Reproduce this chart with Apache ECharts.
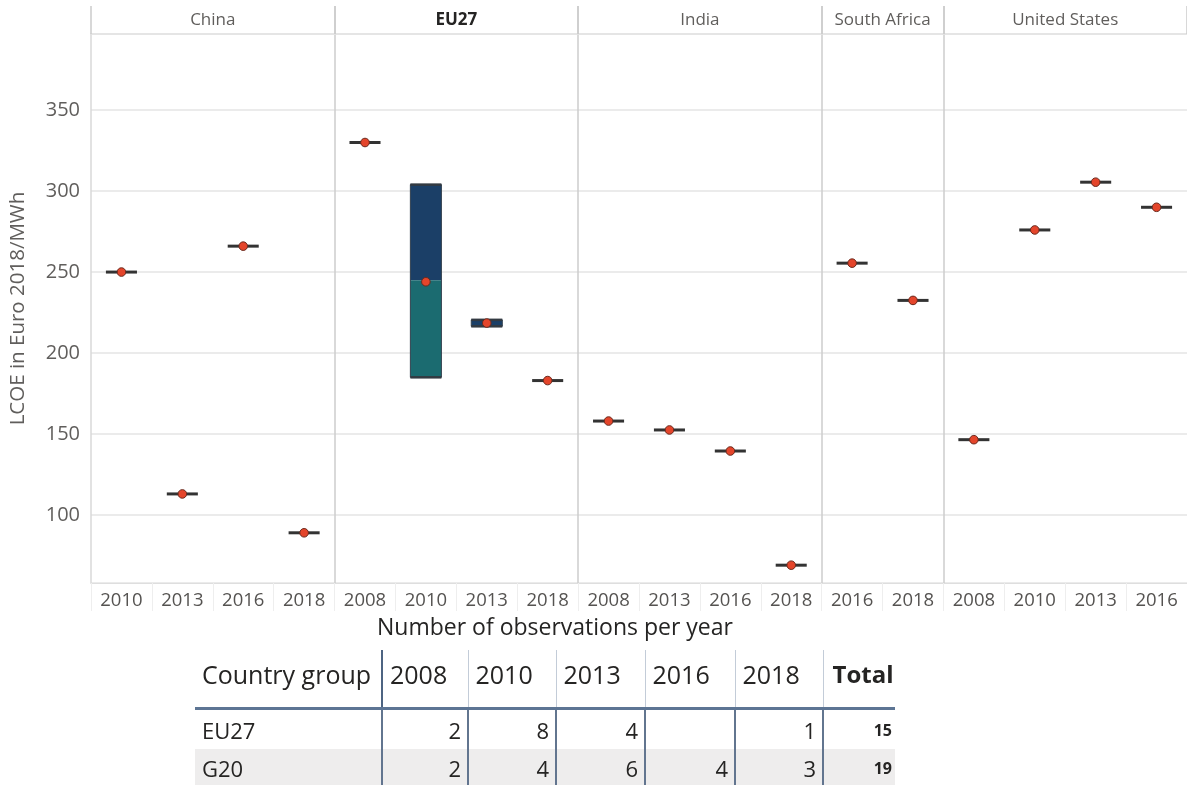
<!DOCTYPE html>
<html>
<head>
<meta charset="utf-8">
<script src="https://cdn.jsdelivr.net/npm/echarts@6/dist/echarts.min.js"></script>
<style>
html,body{margin:0;padding:0;background:#fff;}
#chart{position:absolute;left:0;top:0;width:1187px;height:785px;}
#tbl{position:absolute;left:195px;top:650px;border-collapse:collapse;table-layout:fixed;width:700px;font-family:'Open Sans',sans-serif;color:#252423;}
#tbl th{font-size:25px;font-weight:normal;text-align:left;padding:0 0 10px 7px;height:47px;vertical-align:middle;border-bottom:3px solid #5d7594;border-left:1.5px solid #c3ccd8;white-space:nowrap;}
#tbl th:first-child{border-left:none;}
#tbl th.sep1{border-left:2px solid #4d6482;}
#tbl th.tot{font-weight:bold;padding-left:9px;font-size:24px;}
#tbl td{font-size:22px;text-align:right;padding:0 6px 0 0;vertical-align:middle;border-left:2px solid #62758f;white-space:nowrap;}
#tbl td:first-child{text-align:left;padding-left:7px;border-left:none;}
#tbl td.tot{font-weight:bold;font-size:16px;padding-right:3px;}
#tbl tr.r1 td{height:39px;}
#tbl tr.r2 td{height:38px;background:#eeeded;}
</style>
</head>
<body>
<div id="chart"></div>
<table id="tbl"></table>
<script>
// ---------- data ----------
const panels = ['China', 'EU27', 'India', 'South Africa', 'United States'];

const chinaYears = ['2010', '2013', '2016', '2018'];
const chinaMean  = [250, 113, 266, 89];

const euYears  = ['2008', '2010', '2013', '2018'];
const euMean   = [330, 244, 218.5, 183];
const euLow    = [null, 185, 216.5, null];
const euMedian = [null, 245, 216.5, null];
const euHigh   = [null, 304, 220.5, null];

const indiaYears = ['2008', '2013', '2016', '2018'];
const indiaMean  = [158, 152.5, 139.5, 69];

const southAfricaYears = ['2016', '2018'];
const southAfricaMean  = [255.5, 232.5];

const usYears = ['2008', '2010', '2013', '2016'];
const usMean  = [146.5, 276, 305.5, 290];

const yTicks = [100, 150, 200, 250, 300, 350];

const tableYears  = ['2008', '2010', '2013', '2016', '2018'];
const groupNames  = ['EU27', 'G20'];
const eu27Counts  = [2, 8, 4, null, 1];
const g20Counts   = [2, 4, 6, 4, 3];
const groupTotals = [15, 19];

// ---------- build ----------
const panelData = [
  { years: chinaYears, mean: chinaMean },
  { years: euYears, mean: euMean, low: euLow, median: euMedian, high: euHigh },
  { years: indiaYears, mean: indiaMean },
  { years: southAfricaYears, mean: southAfricaMean },
  { years: usYears, mean: usMean }
];

const FONT = "'Open Sans', sans-serif";
const plotLeft = 91, plotRight = 1187, plotTop = 34, plotBottom = 583;
const totalCats = panelData.reduce((s, p) => s + p.years.length, 0);
const cw = (plotRight - plotLeft) / totalCats;

const grids = [], xAxes = [], yAxes = [], series = [];
let acc = 0;
panelData.forEach((p, i) => {
  const left = plotLeft + acc * cw;
  const width = p.years.length * cw;
  acc += p.years.length;
  grids.push({ left: left, width: width, top: plotTop, bottom: 785 - plotBottom, containLabel: false });
  // bottom axis (years)
  xAxes.push({
    type: 'category', gridIndex: i, position: 'bottom', data: p.years,
    axisLine: { show: true, lineStyle: { color: '#dedede', width: 1 } },
    axisTick: { show: true, length: 28, lineStyle: { color: '#eeeeee', width: 1 } },
    axisLabel: { fontSize: 18.5, color: '#555351', margin: 8, fontFamily: FONT },
    splitLine: { show: false }
  });
  // top axis (panel header)
  xAxes.push({
    type: 'category', gridIndex: i, position: 'top', data: [panels[i]],
    axisLine: { show: true, lineStyle: { color: '#e3e3e3', width: 1.5 } },
    axisTick: { show: true, length: 28, lineStyle: { color: '#cccccc', width: 1.5 } },
    axisLabel: {
      fontSize: 17, margin: 5, fontFamily: FONT,
      color: i === 1 ? '#252423' : '#605e5c',
      fontWeight: i === 1 ? 'bold' : 'normal'
    },
    splitLine: { show: false }
  });
  yAxes.push({
    type: 'value', gridIndex: i, min: 58, max: 397,
    name: i === 0 ? 'LCOE in Euro 2018/MWh' : '',
    nameLocation: 'middle', nameGap: 62,
    nameTextStyle: { fontSize: 20.5, color: '#605e5c', fontFamily: FONT },
    axisLine: { show: true, lineStyle: { color: i === 0 ? '#d8d8d8' : '#cccccc', width: 1.5 } },
    axisTick: { show: false },
    axisLabel: {
      show: i === 0, fontSize: 20, color: '#605e5c', margin: 11, fontFamily: FONT,
      showMinLabel: false, showMaxLabel: false,
      formatter: v => (yTicks.indexOf(v) >= 0 ? String(v) : '')
    },
    splitLine: { show: true, lineStyle: { color: '#e4e4e4', width: 1.5 } }
  });
  const data = p.years.map((y, k) => {
    const m = p.mean[k];
    const hasBox = p.low && p.low[k] != null;
    return [k,
      hasBox ? p.low[k] : m,
      hasBox ? p.median[k] : m,
      hasBox ? p.high[k] : m,
      m,
      hasBox ? 1 : 0];
  });
  series.push({
    type: 'custom', xAxisIndex: 2 * i, yAxisIndex: i,
    encode: { x: 0, y: [1, 2, 3, 4] },
    clip: false,
    data: data,
    renderItem: function (params, api) {
      const x = api.value(0);
      const low = api.value(1), mid = api.value(2), high = api.value(3), mean = api.value(4);
      const hasBox = api.value(5) === 1;
      const w = api.size([1, 0])[0] * 0.51;
      const c = api.coord([x, mean]);
      const children = [];
      if (hasBox) {
        const pl = api.coord([x, low]), pm = api.coord([x, mid]), ph = api.coord([x, high]);
        const x0 = c[0] - w / 2;
        children.push({ type: 'rect', shape: { x: x0, y: ph[1], width: w, height: pm[1] - ph[1] },
          style: { fill: '#1b3f67' } });
        if (pl[1] - pm[1] > 0) {
          children.push({ type: 'rect', shape: { x: x0, y: pm[1], width: w, height: pl[1] - pm[1] },
            style: { fill: '#1b6b70' } });
        }
        children.push({ type: 'rect', shape: { x: x0, y: ph[1], width: w, height: pl[1] - ph[1] },
          style: { fill: 'none', stroke: '#34414f', lineWidth: 1 } });
        children.push({ type: 'line', shape: { x1: x0, y1: ph[1], x2: x0 + w, y2: ph[1] },
          style: { stroke: '#333a42', lineWidth: 2.5 } });
        children.push({ type: 'line', shape: { x1: x0, y1: pl[1], x2: x0 + w, y2: pl[1] },
          style: { stroke: '#333a42', lineWidth: 2.5 } });
      } else {
        children.push({ type: 'rect', shape: { x: c[0] - w / 2, y: c[1] - 1.5, width: w, height: 3 },
          style: { fill: '#333333' } });
      }
      children.push({ type: 'circle', shape: { cx: c[0], cy: c[1], r: 4.3 },
        style: { fill: '#e4452b', stroke: '#6a2a1e', lineWidth: 1 } });
      return { type: 'group', children: children };
    }
  });
});

const chart = echarts.init(document.getElementById('chart'), null, { renderer: 'canvas' });
chart.setOption({
  animation: false,
  backgroundColor: '#ffffff',
  textStyle: { fontFamily: FONT },
  title: {
    text: 'Number of observations per year', left: 377, top: 617, padding: 0,
    textStyle: { fontSize: 23, fontWeight: 'normal', color: '#252423', fontFamily: FONT }
  },
  grid: grids,
  xAxis: xAxes,
  yAxis: yAxes,
  series: series
});

// ---------- table ----------
const tbl = document.getElementById('tbl');
const colWidths = [187, 86, 88, 89, 90, 88, 72];
const cg = document.createElement('colgroup');
colWidths.forEach(w => { const c = document.createElement('col'); c.style.width = w + 'px'; cg.appendChild(c); });
tbl.appendChild(cg);
const hr = document.createElement('tr');
['Country group'].concat(tableYears).concat(['Total']).forEach((t, j) => {
  const th = document.createElement('th');
  th.textContent = t;
  if (j === 1) th.className = 'sep1';
  if (j === tableYears.length + 1) th.className = 'tot';
  hr.appendChild(th);
});
tbl.appendChild(hr);
[eu27Counts, g20Counts].forEach((row, r) => {
  const tr = document.createElement('tr');
  tr.className = 'r' + (r + 1);
  const td0 = document.createElement('td'); td0.textContent = groupNames[r]; tr.appendChild(td0);
  row.forEach(v => { const td = document.createElement('td'); td.textContent = v == null ? '' : String(v); tr.appendChild(td); });
  const tdT = document.createElement('td'); tdT.className = 'tot'; tdT.textContent = String(groupTotals[r]); tr.appendChild(tdT);
  tbl.appendChild(tr);
});
</script>
</body>
</html>
